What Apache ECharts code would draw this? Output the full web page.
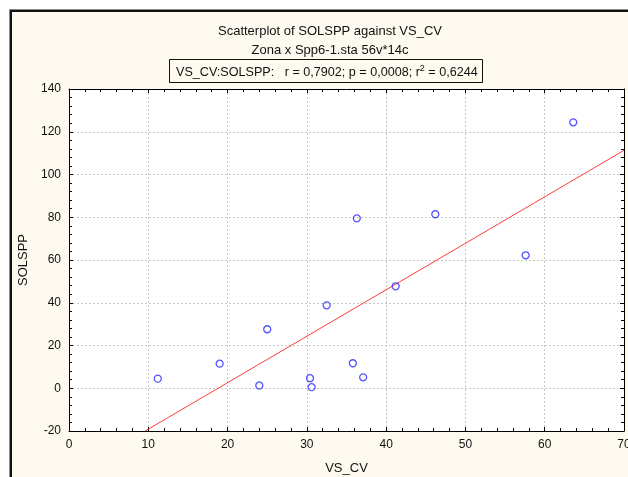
<!DOCTYPE html>
<html><head><meta charset="utf-8">
<script src="https://cdn.jsdelivr.net/npm/echarts@6/dist/echarts.min.js"></script>
<style>html,body{margin:0;padding:0;background:#fff}#c{width:628px;height:477px}</style>
</head><body><div id="c"></div>
<script>
const vsCv   = [11.2, 19.0, 24.0, 25.0, 30.4, 30.6, 32.5, 35.8, 36.3, 37.1, 41.2, 46.2, 57.6, 63.6];
const solspp = [4.5, 11.5, 1.3, 27.6, 4.7, 0.5, 38.8, 11.7, 79.5, 5.1, 47.7, 81.4, 62.2, 124.4];
const fitX = [9.6, 70];
const fitY = [-20, 111.3];
const titleText = 'Scatterplot of SOLSPP against VS_CV';
const subtitleText = 'Zona x Spp6-1.sta 56v*14c';
const statsText = 'VS_CV:SOLSPP:   r = 0,7902; p = 0,0008; r{sup|2} = 0,6244';

const font = 'Liberation Sans, Arial, sans-serif';
const chart = echarts.init(document.getElementById('c'), null, {renderer: 'canvas'});
const points = vsCv.map((x, i) => [x, solspp[i]]);
const fit = fitX.map((x, i) => [x, fitY[i]]);

const axisCommon = {
  type: 'value', min: 0, max: 70, interval: 10,
  axisLine: {show: true, onZero: false, lineStyle: {color: '#000', width: 1}},
  axisTick: {show: true, inside: true, length: 4, lineStyle: {color: '#000'}},
  minorTick: {show: true, splitNumber: 5, length: 3, lineStyle: {color: '#000'}},
};
chart.setOption({
  animation: false,
  backgroundColor: '#fff',
  graphic: [
    {type: 'rect', shape: {x: 9.5, y: 9.5, width: 640, height: 500}, style: {fill: 'none', stroke: '#888', lineWidth: 1}, z: -11},
    {type: 'rect', shape: {x: 11, y: 11, width: 640, height: 500}, style: {fill: '#fffaf0', stroke: '#111', lineWidth: 2}, z: -10}
  ],
  title: [
    {text: titleText, left: 325, top: 20, textAlign: 'center', textStyle: {fontFamily: font, fontSize: 13, fontWeight: 'normal', color: '#111'}},
    {text: subtitleText, left: 325, top: 39, textAlign: 'center', textStyle: {fontFamily: font, fontSize: 13, fontWeight: 'normal', color: '#111'}},
    {text: statsText, left: 169, top: 59, borderColor: '#111', borderWidth: 1, padding: [5, 5, 3, 7],
      textStyle: {fontFamily: font, fontSize: 12.6, fontWeight: 'normal', color: '#111',
        rich: {sup: {fontFamily: font, fontSize: 9, color: '#111', verticalAlign: 'top', padding: [0, 0, 9, 0]}}}}
  ],
  grid: {left: 69, top: 89, width: 555, height: 342, show: true, backgroundColor: '#fff', borderWidth: 0,
    containLabel: false, outerBoundsMode: 'none'},
  xAxis: [
    Object.assign({}, axisCommon, {position: 'bottom',
      name: 'VS_CV', nameLocation: 'middle', nameGap: 31,
      nameTextStyle: {fontFamily: font, fontSize: 13, color: '#111'},
      axisLabel: {fontFamily: font, fontSize: 12, color: '#111', margin: 8},
      splitLine: {show: true, lineStyle: {color: '#c8c8c8', type: [2, 2], width: 1}}}),
    Object.assign({}, axisCommon, {position: 'top', axisLabel: {show: false}, splitLine: {show: false}})
  ],
  yAxis: [
    Object.assign({}, axisCommon, {min: -20, max: 140, interval: 20, position: 'left',
      name: 'SOLSPP', nameLocation: 'middle', nameGap: 30,
      nameTextStyle: {fontFamily: font, fontSize: 13, color: '#111'},
      axisLabel: {fontFamily: font, fontSize: 12, color: '#111', margin: 8},
      splitLine: {show: true, lineStyle: {color: '#c8c8c8', type: [2, 2], width: 1}}}),
    Object.assign({}, axisCommon, {min: -20, max: 140, interval: 20, position: 'right', axisLabel: {show: false}, splitLine: {show: false}})
  ],
  series: [
    {type: 'line', data: fit, symbol: 'none', lineStyle: {color: '#ff3b3b', width: 1}, z: 2},
    {type: 'scatter', data: points, symbol: 'circle', symbolSize: 7,
      itemStyle: {color: 'rgba(0,0,0,0)', borderColor: '#2a2aff', borderWidth: 1.3}, z: 3}
  ]
});
</script></body></html>
